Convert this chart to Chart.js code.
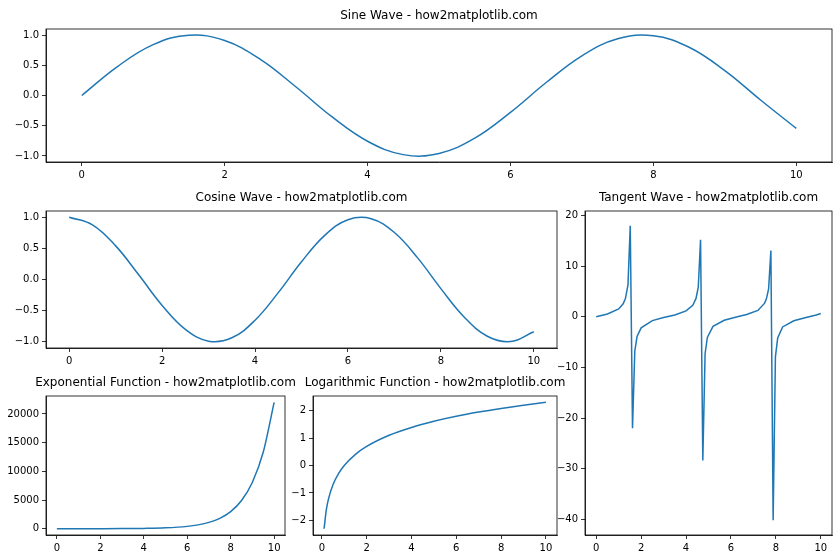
<!DOCTYPE html>
<html lang="en">
<head>
<meta charset="UTF-8">
<title>how2matplotlib subplots</title>
<script src="https://cdn.jsdelivr.net/npm/chart.js@4.4.0/dist/chart.umd.min.js"></script>
<style>
  body { margin: 0; background: #fff; }
  #fig { position: relative; width: 840px; height: 560px; background: #fff; font-family: "DejaVu Sans", sans-serif; }
  .panel { position: absolute; }
  .title { position: absolute; font-size: 12px; color: #000; text-align: center; white-space: nowrap; transform: translateX(-50%); }
</style>
</head>
<body>
<div id="fig"></div>
<script>
// values
const sineX = [0,0.5,1,1.5,2,2.5,3,3.5,4,4.5,5,5.5,6,6.5,7,7.5,8,8.5,9,9.5,10];
const sineY = [0,0.479,0.841,0.997,0.909,0.598,0.141,-0.351,-0.757,-0.978,-0.959,-0.706,-0.279,0.215,0.657,0.938,0.989,0.798,0.412,-0.075,-0.544];

const cosX = [0,0.5,1,1.5,2,2.5,3,3.5,4,4.5,5,5.5,6,6.5,7,7.5,8,8.5,9,9.5,10];
const cosY = [1,0.878,0.540,0.071,-0.416,-0.801,-0.990,-0.936,-0.654,-0.211,0.284,0.709,0.960,0.977,0.754,0.347,-0.146,-0.602,-0.911,-0.997,-0.839];

const tanX = [0,0.5,1.0,1.2,1.3,1.414,1.515,1.616,1.717,1.818,2.0,2.5,3.0,3.5,4.0,4.3,4.444,4.545,4.646,4.747,4.848,4.949,5.2,5.7,6.2,6.7,7.2,7.5,7.576,7.677,7.778,7.879,7.980,8.081,8.3,8.8,9.3,9.8,10];
const tanY = [0,0.546,1.557,2.572,3.6,6.3,18.0,-22.0,-6.8,-3.9,-2.185,-0.747,-0.143,0.375,1.158,2.28,3.63,5.85,15.2,-28.4,-7.3,-4.06,-1.886,-0.68,-0.083,0.45,1.26,2.7,3.5,5.5,13.1,-40.2,-7.9,-4.2,-2.0,-0.78,-0.18,0.37,0.648];

const expX = [0,1,2,3,4,5,6,6.5,7,7.5,8,8.5,9,9.5,10];
const expY = [1,2.7,7.4,20,54.6,148,403,665,1097,1808,2981,4915,8103,13360,22026];

const logX = [0.1,0.2,0.3,0.5,0.75,1,1.5,2,3,4,5,6,7,8,9,10];
const logY = [-2.303,-1.609,-1.204,-0.693,-0.288,0,0.405,0.693,1.099,1.386,1.609,1.792,1.946,2.079,2.197,2.303];

// tick positions
const xTicks = [0,2,4,6,8,10];
const waveYTicks = [-1,-0.5,0,0.5,1];
const tanYTicks = [-40,-30,-20,-10,0,10,20];
const expYTicks = [0,5000,10000,15000,20000];
const logYTicks = [-2,-1,0,1,2];

const fig = document.getElementById('fig');
const Y_W = 44, X_H = 22, PAD = 6;

const frame = {
  id: 'frame',
  afterDraw(c) {
    const a = c.chartArea, ctx = c.ctx;
    ctx.save();
    ctx.strokeStyle = '#000';
    ctx.lineWidth = 0.8;
    ctx.strokeRect(a.left, a.top, a.right - a.left, a.bottom - a.top);
    ctx.restore();
  }
};

function fmt(dec) {
  return v => (dec ? v.toFixed(dec) : String(Math.round(v))).replace('-', '\u2212');
}

function axis(min, max, ticks, dec, pos) {
  return {
    type: 'linear', position: pos, min: min, max: max,
    grid: { drawOnChartArea: false, drawTicks: true, tickLength: 4, color: '#000', lineWidth: 0.8 },
    border: { display: true, color: '#000', width: 0.8 },
    ticks: { color: '#000', padding: 3, autoSkip: false, maxRotation: 0,
             font: { family: 'DejaVu Sans', size: 10 }, callback: fmt(dec) },
    afterBuildTicks(s) { s.ticks = ticks.map(v => ({ value: v })); },
    afterFit(s) { if (pos === 'left') s.width = Y_W; else s.height = X_H; }
  };
}

function panel(title, box, xs, ys, xr, yr, curve) {
  const div = document.createElement('div');
  div.className = 'panel';
  div.style.left = (box[0] - Y_W) + 'px';
  div.style.top = (box[1] - PAD) + 'px';
  const cv = document.createElement('canvas');
  const w = box[2] + Y_W + PAD, h = box[3] + PAD + X_H;
  cv.width = w; cv.height = h;
  cv.style.width = w + 'px'; cv.style.height = h + 'px';
  div.appendChild(cv);
  fig.appendChild(div);

  const t = document.createElement('div');
  t.className = 'title';
  t.textContent = title;
  t.style.left = (box[0] + box[2] / 2) + 'px';
  t.style.top = (box[1] - 18) + 'px';
  fig.appendChild(t);

  new Chart(cv, {
    type: 'line',
    data: { datasets: [{
      data: xs.map((x, i) => ({ x: x, y: ys[i] })),
      borderColor: '#1f77b4', borderWidth: 1.5, pointRadius: 0,
      tension: curve ? 0.4 : 0,
      cubicInterpolationMode: curve === 'mono' ? 'monotone' : 'default'
    }] },
    options: {
      responsive: false, animation: false, devicePixelRatio: 1,
      layout: { padding: { top: PAD, right: PAD, left: 0, bottom: 0 } },
      plugins: { legend: { display: false }, tooltip: { enabled: false } },
      scales: { x: axis(xr[0], xr[1], xTicks, 0, 'bottom'), y: axis(yr[0], yr[1], yr[2], yr[3], 'left') }
    },
    plugins: [frame]
  });
}

panel('Sine Wave - how2matplotlib.com', [46, 26, 786, 136], sineX, sineY, [-0.5, 10.5], [-1.1, 1.1, waveYTicks, 1], true);
panel('Cosine Wave - how2matplotlib.com', [46, 208, 511, 140], cosX, cosY, [-0.5, 10.5], [-1.1, 1.1, waveYTicks, 1], true);
panel('Tangent Wave - how2matplotlib.com', [585, 208, 247, 327], tanX, tanY, [-0.5, 10.5], [-43.1, 20.9, tanYTicks, 0], false);
panel('Exponential Function - how2matplotlib.com', [46, 393, 239, 142], expX, expY, [-0.5, 10.5], [-1100, 23127, expYTicks, 0], 'mono');
panel('Logarithmic Function - how2matplotlib.com', [313, 393, 244, 142], logX, logY, [-0.395, 10.495], [-2.53, 2.53, logYTicks, 0], 'mono');
</script>
</body>
</html>
